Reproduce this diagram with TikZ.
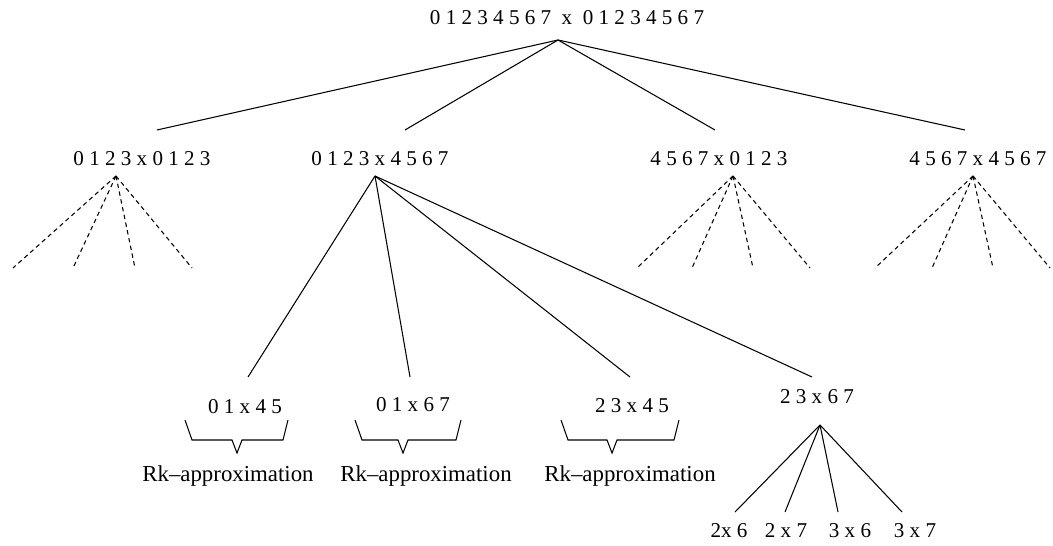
\documentclass[tikz,border=0pt]{standalone}
\usepackage{fontspec}
\setmainfont{Liberation Serif}
\usetikzlibrary{positioning}

\begin{document}
\begin{tikzpicture}[x=0.02cm, y=-0.02cm,
  block/.style={font=\fontsize{12}{14}\selectfont, inner sep=0pt},
  approx/.style={font=\fontsize{13}{15}\selectfont, inner sep=0pt},
  edge/.style={line width=0.6pt},
  dashedge/.style={line width=0.6pt, dash pattern=on 2.5pt off 2pt},
]
\useasboundingbox (0,0) rectangle (1053,546);

% root block
\node[block] (root) at (567,18) {0 1 2 3 4 5 6 7\ \ x\ \ 0 1 2 3 4 5 6 7};
\coordinate (roottip) at (558,40);

% first level blocks
\foreach \i/\x/\tx/\ex/\name in {1/142/116/157/{0 1 2 3 x 0 1 2 3},
                                 2/380/375/405/{0 1 2 3 x 4 5 6 7},
                                 3/719/733/715/{4 5 6 7 x 0 1 2 3},
                                 4/978/973/965/{4 5 6 7 x 4 5 6 7}} {
  \node[block] (b\i) at (\x,159) {\name};
  \coordinate (tip\i) at (\tx,176);
  \coordinate (top\i) at (\ex,130);
  \draw[edge] (roottip) -- (top\i);
}

% not refined (dashed)
\foreach \i/\a/\b/\c/\d in {1/13/73/135/192, 3/637/692/753/810, 4/875/932/993/1050} {
  \foreach \e/\ex in {1/\a, 2/\b, 3/\c, 4/\d} {
    \coordinate (free\i\e) at (\ex,268);
    \draw[dashedge] (tip\i) -- (free\i\e);
  }
}

% second level under 0123 x 4567
\foreach \j/\x/\y/\ex/\name in {1/245/407/248/{0 1 x 4 5},
                                2/413/405/410/{0 1 x 6 7},
                                3/632/406/630/{2 3 x 4 5},
                                4/817/397/812/{2 3 x 6 7}} {
  \node[block] (s\j) at (\x,\y) {\name};
  \coordinate (end\j) at (\ex,377);
  \draw[edge] (tip2) -- (end\j);
}

% low rank blocks
\foreach \j/\l/\v/\r/\x in {1/185/237/288/228, 2/355/403/461/426, 3/561/612/679/630} {
  \draw[edge] (\l,420) -- (\l+7,440) -- (\v-5,440) -- (\v,453) -- (\v+5,440)
              -- (\r-5,440) -- (\r,420);
  \node[approx] (rk\j) at (\x,476) {Rk--approximation};
}

% leaves of 23 x 67
\coordinate (tip5) at (820,425);
\foreach \k/\ex/\x/\name in {1/735/729/{2x 6}, 2/785/786/{2 x 7},
                             3/838/850/{3 x 6}, 4/902/915/{3 x 7}} {
  \coordinate (leaf\k) at (\ex,512);
  \node[block] (l\k) at (\x,531) {\name};
  \draw[edge] (tip5) -- (leaf\k);
}
\end{tikzpicture}
\end{document}
